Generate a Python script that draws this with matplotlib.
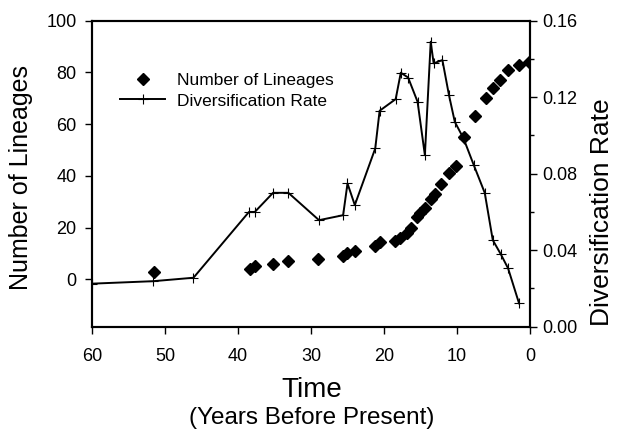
import matplotlib
matplotlib.use("Agg")
import matplotlib.pyplot as plt
from matplotlib.ticker import MultipleLocator

plt.rcParams['font.family'] = ['Liberation Sans', 'DejaVu Sans']

# number of lineages (left axis)
years_lin = [51.5, 38.3, 37.7, 35.2, 33.2, 29.0, 25.6, 25.0, 24.0, 21.2, 20.6,
             18.5, 17.8, 16.9, 16.3, 15.5, 15.0, 14.4, 13.5, 13.0, 12.2, 11.1,
             10.1, 9.1, 7.6, 6.0, 5.0, 4.1, 3.0, 1.5, 0.1]
lineages = [3, 4, 5, 6, 7, 8, 9, 10, 11, 13, 14.5,
            15, 16, 18, 20, 24, 25.5, 27.5, 31, 33, 37, 41,
            44, 55, 63, 70, 74, 77, 81, 83, 84]

# diversification rate (right axis)
years_rate = [60.0, 51.6, 46.1, 38.5, 37.7, 35.2, 33.1, 28.9, 25.6, 25.0, 24.0,
              21.2, 20.6, 18.4, 17.7, 16.7, 15.4, 14.4, 13.6, 13.2, 12.0, 11.1,
              10.3, 9.1, 7.7, 6.2, 5.1, 4.0, 3.0, 1.5]
rate = [0.0225, 0.0238, 0.0256, 0.0600, 0.0600, 0.0700, 0.0700, 0.0557, 0.0583,
        0.0749, 0.0636, 0.0932, 0.1129, 0.1190, 0.1328, 0.1303, 0.1176, 0.0897,
        0.1490, 0.1377, 0.1394, 0.1211, 0.1071, 0.0984, 0.0845, 0.0700, 0.0453,
        0.0379, 0.0305, 0.0122]

fig = plt.figure(figsize=(6.2, 4.32), dpi=100)
ax = fig.add_axes([92 / 620, 1 - 326.7 / 432, 438 / 620, 306 / 432])
ax2 = ax.twinx()

pts, = ax.plot(years_lin, lineages, linestyle='none', marker='D', ms=6,
               color='black', label='Number of Lineages')
ln, = ax2.plot(years_rate, rate, color='black', lw=1.4, marker='+', ms=6.5,
               mew=0.8, label='Diversification Rate')

ax.set_xlim(60, 0)
ax.set_ylim(-18.3, 100)
ax2.set_ylim(0, 0.16)
ax.set_xticks([60, 50, 40, 30, 20, 10, 0])
ax.set_yticks([0, 20, 40, 60, 80, 100])
ax2.set_yticks([0.0, 0.04, 0.08, 0.12, 0.16])
ax2.set_yticklabels(['0.00', '0.04', '0.08', '0.12', '0.16'])
ax2.yaxis.set_minor_locator(MultipleLocator(0.02))

ax.tick_params(axis='y', labelsize=13, direction='out', length=5, width=1, pad=6)
ax.tick_params(axis='x', labelsize=13, direction='out', length=5, width=1, pad=10)
ax2.tick_params(which='both', labelsize=13, direction='out', length=5, width=1, pad=4)
ax2.tick_params(which='minor', length=3)
for a in (ax, ax2):
    for s in a.spines.values():
        s.set_linewidth(1.5)

ax.set_ylabel('Number of Lineages', fontsize=18)
ax.yaxis.set_label_coords(-0.135, 0.488)
ax2.set_ylabel('Diversification Rate', fontsize=19, rotation=90)
ax2.yaxis.set_label_coords(1.137, 0.375)

fig.text(0.503, 1 - 390 / 432, 'Time', fontsize=20, ha='center', va='center')
fig.text(0.503, 1 - 418 / 432, '(Years Before Present)', fontsize=17.5,
         ha='center', va='center')

ax2.legend([pts, ln], ['Number of Lineages', 'Diversification Rate'],
           loc='upper left', bbox_to_anchor=(120 / 620, 1 - 73 / 432),
           bbox_transform=fig.transFigure, frameon=False, fontsize=12.5,
           borderpad=0, borderaxespad=0, handlelength=2.6, handletextpad=0.7,
           labelspacing=0.3)

fig.savefig('out.png', dpi=100)
